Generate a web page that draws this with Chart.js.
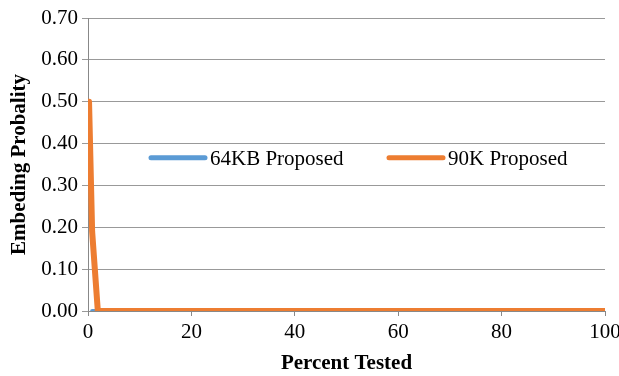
<!DOCTYPE html>
<html>
<head>
<meta charset="utf-8">
<script src="https://cdn.jsdelivr.net/npm/chart.js@4.4.0/dist/chart.umd.min.js"></script>
<style>
  html, body { margin: 0; padding: 0; background: #fff; }
  #wrap { width: 619px; height: 376px; position: relative; }
</style>
</head>
<body>
<div id="wrap"><canvas id="line-chart"></canvas></div>
<script>
// percent tested (x) and embedding probability (y) per series
var pct64 = [0.8, 100];
var prob64 = [0.00, 0.00];
var pct90 = [0.2, 0.8, 1.9, 100];
var prob90 = [0.50, 0.19, 0.00, 0.00];
var seriesNames = ["64KB Proposed", "90K Proposed"];
var yTicks = [0, 0.1, 0.2, 0.3, 0.4, 0.5, 0.6, 0.7];
var xTicks = [0, 20, 40, 60, 80, 100];

var FONT = "'Liberation Serif', 'Times New Roman', serif";
var FSIZE = 21;

function toPoints(xs, ys){
    return xs.map(function(x, i){ return {x: x, y: ys[i]}; });
}

// legend drawn inside the plot area, one line sample + label per series
var innerLegend = {
    id: 'innerLegend',
    afterDraw: function(chart){
        var ctx = chart.ctx;
        var y = chart.scales.y.getPixelForValue(0.366);
        var starts = [151, 389];
        ctx.save();
        ctx.font = FSIZE + "px " + FONT;
        ctx.textBaseline = 'middle';
        chart.data.datasets.forEach(function(ds, i){
            var x0 = starts[i];
            ctx.strokeStyle = ds.borderColor;
            ctx.lineWidth = 5;
            ctx.lineCap = 'round';
            ctx.beginPath();
            ctx.moveTo(x0, y);
            ctx.lineTo(x0 + 54, y);
            ctx.stroke();
            ctx.fillStyle = '#000';
            ctx.fillText(ds.label, x0 + 59, y + 2);
        });
        ctx.restore();
    }
};

function createLineChart(){
    new Chart(document.getElementById("line-chart"), {
        type: 'line',
        data: {
            datasets: [
                {
                    label: seriesNames[0],
                    data: toPoints(pct64, prob64),
                    borderColor: '#5B9BD5',
                    backgroundColor: '#5B9BD5',
                    borderWidth: 4,
                    borderCapStyle: 'round',
                    pointRadius: 0,
                    order: 2
                },
                {
                    label: seriesNames[1],
                    data: toPoints(pct90, prob90),
                    borderColor: '#ED7D31',
                    backgroundColor: '#ED7D31',
                    borderWidth: 6,
                    borderCapStyle: 'round',
                    borderJoinStyle: 'round',
                    pointRadius: 0,
                    order: 1
                }
            ]
        },
        options: {
            responsive: true,
            maintainAspectRatio: false,
            animation: false,
            devicePixelRatio: 1,
            layout: { padding: { top: 18, right: 14, left: 0, bottom: 0 } },
            plugins: {
                legend: { display: false },
                tooltip: { enabled: false }
            },
            scales: {
                x: {
                    type: 'linear',
                    min: 0,
                    max: 100,
                    afterBuildTicks: function(scale){
                        scale.ticks = xTicks.map(function(v){ return {value: v}; });
                    },
                    afterFit: function(scale){
                        scale.height = 65;
                        scale.paddingRight = 0;
                        scale.paddingLeft = 0;
                    },
                    grid: {
                        drawOnChartArea: false,
                        drawTicks: true,
                        tickLength: 5,
                        color: '#888'
                    },
                    border: { color: '#888', width: 1 },
                    ticks: {
                        color: '#000',
                        padding: 4,
                        maxRotation: 0,
                        font: { family: FONT, size: FSIZE }
                    },
                    title: {
                        display: true,
                        text: 'Percent Tested',
                        color: '#000',
                        padding: { top: 3, bottom: 0 },
                        font: { family: FONT, size: FSIZE, weight: 'bold' }
                    }
                },
                y: {
                    min: 0,
                    max: 0.7,
                    afterBuildTicks: function(scale){
                        scale.ticks = yTicks.map(function(v){ return {value: v}; });
                    },
                    afterFit: function(scale){
                        scale.width = 88;
                    },
                    grid: {
                        color: '#999',
                        lineWidth: 1,
                        tickLength: 6
                    },
                    border: { color: '#888', width: 1 },
                    ticks: {
                        color: '#000',
                        padding: 4,
                        font: { family: FONT, size: FSIZE },
                        callback: function(v){ return Number(v).toFixed(2); }
                    },
                    title: {
                        display: true,
                        text: 'Embeding Probality',
                        color: '#000',
                        padding: { top: 7, bottom: 0 },
                        font: { family: FONT, size: FSIZE, weight: 'bold' }
                    }
                }
            }
        },
        plugins: [innerLegend]
    });
}

createLineChart();
</script>
</body>
</html>
